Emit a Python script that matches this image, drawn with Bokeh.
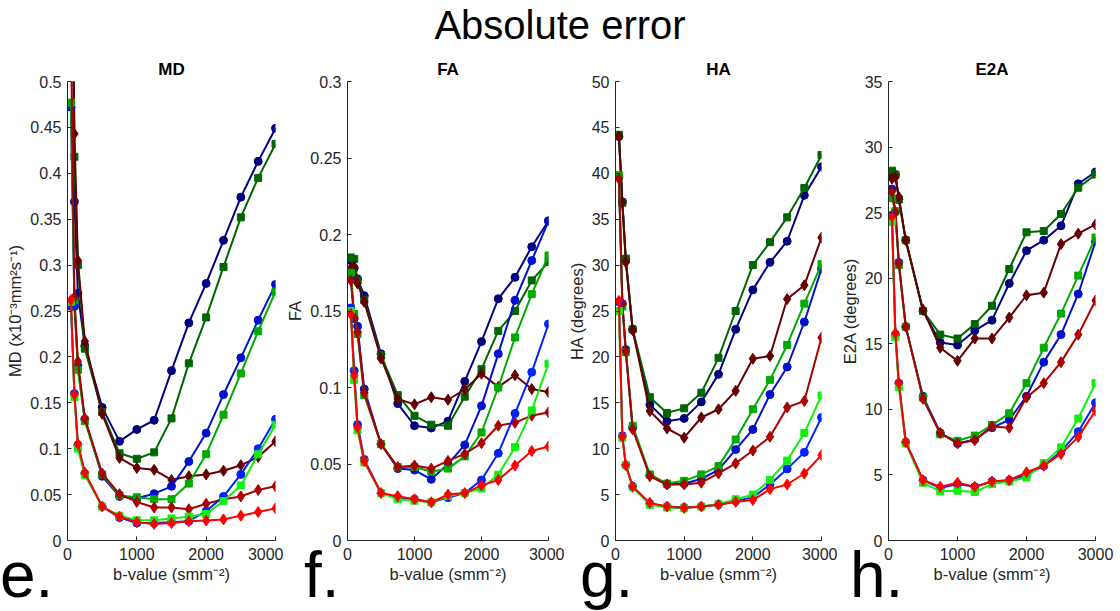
from bokeh.plotting import figure
from bokeh.layouts import row, column
from bokeh.models import Div, Range1d, FixedTicker, CustomJSTickFormatter
from bokeh.embed import file_html
from bokeh.resources import INLINE

b_values = [50, 100, 150, 250, 500, 750, 1000, 1250, 1500, 1750, 2000, 2250, 2500, 2750, 3000]
x_ticks = [0, 1000, 2000, 3000]

# ---- MD ----
md_navy = [0.90, 0.369, 0.269, 0.212, 0.145, 0.108, 0.121, 0.131, 0.185, 0.237, 0.280, 0.327, 0.374, 0.413, 0.449]
md_dkgreen = [0.85, 0.418, 0.300, 0.209, 0.140, 0.095, 0.089, 0.096, 0.133, 0.193, 0.243, 0.298, 0.352, 0.395, 0.432]
md_dkred = [0.80, 0.443, 0.305, 0.217, 0.138, 0.090, 0.079, 0.077, 0.066, 0.070, 0.072, 0.076, 0.082, 0.091, 0.108]
md_blue = [0.472, 0.255, 0.190, 0.132, 0.070, 0.048, 0.046, 0.051, 0.059, 0.086, 0.117, 0.159, 0.199, 0.240, 0.279]
md_green = [0.477, 0.262, 0.186, 0.130, 0.072, 0.049, 0.047, 0.045, 0.045, 0.062, 0.094, 0.137, 0.182, 0.228, 0.271]
md_red = [0.55, 0.265, 0.195, 0.133, 0.073, 0.0505, 0.042, 0.036, 0.036, 0.034, 0.040, 0.045, 0.048, 0.055, 0.059]
md_ltblue = [0.255, 0.160, 0.104, 0.073, 0.037, 0.025, 0.019, 0.019, 0.020, 0.021, 0.032, 0.048, 0.072, 0.100, 0.132]
md_ltgreen = [0.260, 0.156, 0.100, 0.071, 0.037, 0.027, 0.022, 0.022, 0.024, 0.026, 0.029, 0.043, 0.060, 0.094, 0.126]
md_ltred = [0.262, 0.159, 0.105, 0.074, 0.037, 0.026, 0.020, 0.018, 0.019, 0.021, 0.0217, 0.023, 0.027, 0.031, 0.035]
md_yticks = [0, 0.05, 0.1, 0.15, 0.2, 0.25, 0.3, 0.35, 0.4, 0.45, 0.5]

# ---- FA ----
fa_navy = [0.183, 0.178, 0.171, 0.160, 0.122, 0.0895, 0.075, 0.0735, 0.078, 0.104, 0.130, 0.158, 0.172, 0.192, 0.209]
fa_dkgreen = [0.185, 0.184, 0.170, 0.157, 0.121, 0.095, 0.0815, 0.0757, 0.075, 0.094, 0.112, 0.137, 0.150, 0.170, 0.182]
fa_dkred = [0.178, 0.179, 0.168, 0.156, 0.119, 0.0925, 0.089, 0.0936, 0.092, 0.0987, 0.109, 0.1004, 0.108, 0.099, 0.097]
fa_blue = [0.172, 0.145, 0.140, 0.099, 0.063, 0.047, 0.046, 0.040, 0.050, 0.0625, 0.088, 0.122, 0.157, 0.183, 0.2087]
fa_green = [0.175, 0.148, 0.135, 0.095, 0.063, 0.048, 0.048, 0.045, 0.047, 0.055, 0.0706, 0.100, 0.1327, 0.161, 0.1863]
fa_red = [0.170, 0.146, 0.136, 0.0965, 0.063, 0.048, 0.049, 0.047, 0.052, 0.0566, 0.0636, 0.075, 0.077, 0.0816, 0.0838]
fa_ltblue = [0.152, 0.111, 0.0757, 0.053, 0.031, 0.028, 0.027, 0.025, 0.028, 0.031, 0.0395, 0.057, 0.083, 0.110, 0.1415]
fa_ltgreen = [0.150, 0.105, 0.072, 0.051, 0.031, 0.027, 0.026, 0.025, 0.029, 0.031, 0.034, 0.043, 0.061, 0.085, 0.1156]
fa_ltred = [0.148, 0.108, 0.074, 0.052, 0.031, 0.029, 0.027, 0.025, 0.030, 0.031, 0.036, 0.0395, 0.049, 0.0585, 0.0614]
fa_yticks = [0, 0.05, 0.1, 0.15, 0.2, 0.25, 0.3]

# ---- HA ----
ha_navy = [44.0, 36.9, 30.6, 23.0, 14.8, 13.0, 13.3, 15.1, 18.1, 23.0, 27.3, 30.3, 32.6, 37.6, 40.7]
ha_dkgreen = [44.2, 36.8, 30.7, 23.0, 15.6, 13.9, 14.4, 16.1, 19.9, 25.0, 30.0, 32.5, 35.2, 38.4, 42.0]
ha_dkred = [44.0, 36.8, 30.3, 22.9, 14.1, 12.2, 11.2, 13.4, 14.3, 16.3, 19.8, 20.1, 26.3, 27.8, 33.0]
ha_blue = [39.6, 25.8, 20.8, 12.3, 7.1, 6.1, 6.2, 6.7, 7.7, 9.9, 12.1, 15.9, 18.9, 23.8, 29.6]
ha_green = [39.8, 25.5, 20.5, 12.5, 7.2, 6.2, 6.5, 7.2, 8.1, 11.0, 14.3, 17.5, 21.3, 25.8, 30.1]
ha_red = [39.4, 25.8, 20.6, 12.1, 7.0, 6.1, 6.1, 6.3, 7.3, 8.4, 9.8, 11.3, 14.5, 15.2, 22.1]
ha_ltblue = [26.0, 11.4, 8.2, 5.9, 4.0, 3.7, 3.6, 3.7, 3.9, 4.3, 4.7, 6.1, 7.8, 9.6, 13.4]
ha_ltgreen = [25.0, 11.2, 8.2, 5.8, 3.9, 3.6, 3.5, 3.7, 3.95, 4.5, 5.0, 6.6, 8.7, 11.7, 15.8]
ha_ltred = [26.1, 11.3, 8.2, 5.85, 4.1, 3.7, 3.55, 3.7, 3.9, 4.2, 4.4, 5.6, 6.1, 7.3, 9.3]
ha_yticks = [0, 5, 10, 15, 20, 25, 30, 35, 40, 45, 50]

# ---- E2A ----
e2a_navy = [27.9, 27.9, 26.0, 22.9, 17.5, 15.1, 14.9, 16.0, 16.8, 19.6, 22.1, 22.9, 24.0, 27.2, 28.1]
e2a_dkgreen = [28.2, 27.9, 26.0, 22.9, 17.5, 15.7, 15.4, 16.5, 17.9, 20.7, 23.5, 23.6, 24.9, 26.9, 27.9]
e2a_dkred = [27.6, 27.7, 26.2, 22.9, 17.6, 14.7, 13.7, 15.4, 15.4, 17.0, 18.7, 18.9, 22.6, 23.4, 24.1]
e2a_blue = [26.8, 25.1, 21.2, 16.3, 11.0, 8.2, 7.4, 7.7, 8.6, 9.2, 11.0, 13.6, 15.7, 18.8, 22.8]
e2a_green = [26.1, 25.1, 21.0, 16.3, 10.9, 8.1, 7.6, 8.0, 8.8, 9.7, 12.0, 14.7, 17.3, 20.2, 23.1]
e2a_red = [26.6, 25.0, 21.1, 16.3, 10.8, 8.2, 7.4, 7.65, 8.7, 8.6, 10.9, 12.0, 13.6, 15.7, 18.3]
e2a_ltblue = [24.8, 15.7, 12.0, 7.5, 4.6, 4.0, 4.3, 4.1, 4.5, 4.6, 5.0, 5.7, 6.8, 8.3, 10.5]
e2a_ltgreen = [24.3, 15.5, 11.7, 7.4, 4.4, 3.75, 3.8, 3.7, 4.3, 4.5, 4.8, 5.9, 7.1, 9.3, 12.0]
e2a_ltred = [24.7, 15.8, 12.0, 7.5, 4.6, 4.1, 4.4, 4.1, 4.5, 4.6, 5.2, 5.7, 6.6, 7.9, 9.9]
e2a_yticks = [0, 5, 10, 15, 20, 25, 30, 35]

panel_letters = ["e.", "f.", "g.", "h."]

# series styling: (colour, marker, size)
styles = [
    ("#000080", "circle", 8), ("#006600", "square", 7), ("#660000", "diamond", 11),
    ("#0010cc", "circle", 8), ("#00aa00", "square", 7), ("#aa0000", "diamond", 11),
    ("#0022ff", "circle", 8), ("#11ee11", "square", 7), ("#ff0000", "diamond", 11),
]

FONT = "Liberation Sans"
INK = "#262626"
DIV_H = 51
FIG_H = 558
TOP_B = 30
BOT_B = 69


def panel(title, ylabel, yticks, series, mbl, mbr, frame_w):
    p = figure(width=mbl + frame_w + mbr, height=FIG_H,
               x_range=Range1d(0, 3000), y_range=Range1d(yticks[0], yticks[-1]),
               output_backend="svg", toolbar_location=None,
               min_border_left=mbl, min_border_right=mbr,
               min_border_top=TOP_B, min_border_bottom=BOT_B, title=title)
    p.title.text_font = FONT
    p.title.text_font_size = "17px"
    p.title.text_font_style = "bold"
    p.title.text_color = "black"
    p.title.align = "center"
    p.title.standoff = 5
    p.outline_line_color = None
    p.xgrid.visible = False
    p.ygrid.visible = False
    p.background_fill_color = None
    p.border_fill_color = None

    p.xaxis.ticker = FixedTicker(ticks=x_ticks)
    p.yaxis.ticker = FixedTicker(ticks=yticks)
    p.yaxis.formatter = CustomJSTickFormatter(code="return tick.toString();")
    p.xaxis.axis_label = "b-value (smm\u207b\u00b2)"
    p.yaxis.axis_label = ylabel
    for ax in (p.xaxis[0], p.yaxis[0]):
        ax.major_tick_in = 4
        ax.major_tick_out = 0
        ax.minor_tick_line_color = None
        ax.axis_line_color = INK
        ax.major_tick_line_color = INK
        ax.major_label_text_font = FONT
        ax.major_label_text_font_size = "16px"
        ax.major_label_text_color = INK
        ax.axis_label_text_font = FONT
        ax.axis_label_text_font_size = "16.5px"
        ax.axis_label_text_font_style = "normal"
        ax.axis_label_text_color = INK
    p.xaxis.major_label_standoff = 7
    p.xaxis.axis_label_standoff = 2
    p.yaxis.major_label_standoff = 6
    p.yaxis.axis_label_standoff = 3

    for vals, (col, mk, sz) in zip(series, styles):
        p.line(b_values, vals, line_color=col, line_width=2)
        p.scatter(b_values, vals, marker=mk, size=sz, fill_color=col, line_color=col)
    return p


p1 = panel("MD", "MD (x10\u207b\u00b3mm\u00b2s\u207b\u00b9)", md_yticks,
           [md_navy, md_dkgreen, md_dkred, md_blue, md_green, md_red, md_ltblue, md_ltgreen, md_ltred],
           67, 8, 208)
p2 = panel("FA", "FA", fa_yticks,
           [fa_navy, fa_dkgreen, fa_dkred, fa_blue, fa_green, fa_red, fa_ltblue, fa_ltgreen, fa_ltred],
           58, 16, 207)
p3 = panel("HA", "HA (degrees)", ha_yticks,
           [ha_navy, ha_dkgreen, ha_dkred, ha_blue, ha_green, ha_red, ha_ltblue, ha_ltgreen, ha_ltred],
           49, 16, 208)
p4 = panel("E2A", "E2A (degrees)", e2a_yticks,
           [e2a_navy, e2a_dkgreen, e2a_dkred, e2a_blue, e2a_green, e2a_red, e2a_ltblue, e2a_ltgreen, e2a_ltred],
           51, 20, 207)

title = Div(text="Absolute error", width=1120, height=DIV_H, margin=0,
            styles={"text-align": "center", "font-family": FONT, "font-size": "40px",
                    "line-height": "51px", "color": "black"})

letter_widths = [304, 276, 270, 120]
letters_html = "".join(
    '<span style="display:inline-block;width:%dpx">%s</span>' % (w, t)
    for w, t in zip(letter_widths, panel_letters)
)
letters = Div(text=letters_html, width=1120, height=72, margin=(-70, 0, 0, 0),
              styles={"font-family": FONT, "font-size": "64px", "line-height": "72px",
                      "color": "black", "white-space": "nowrap", "z-index": "5"})

layout = column(title, row(p1, p2, p3, p4), letters)
open("out.html", "w").write(file_html(layout, INLINE))
